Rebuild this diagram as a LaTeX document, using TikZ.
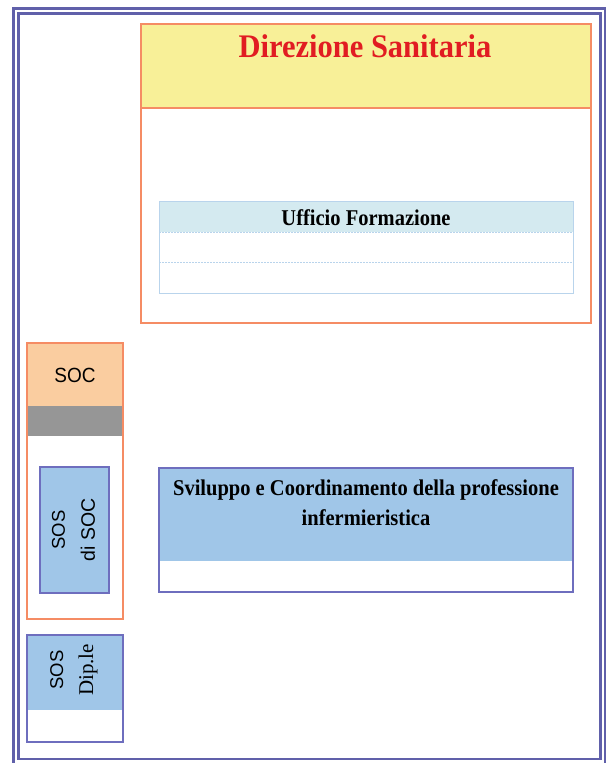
\documentclass[tikz,border=0pt]{standalone}
\usepackage{fontspec}
\setmainfont{Liberation Serif}
\setsansfont{Liberation Sans}
\definecolor{frameblue}{RGB}{96,96,170}
\definecolor{orangeline}{RGB}{245,140,100}
\definecolor{headyellow}{RGB}{248,240,152}
\definecolor{titlered}{RGB}{225,28,34}
\definecolor{paleblue}{RGB}{212,234,240}
\definecolor{paleline}{RGB}{185,212,236}
\definecolor{peach}{RGB}{250,205,160}
\definecolor{bandgray}{RGB}{150,150,150}
\definecolor{unitblue}{RGB}{160,198,232}
\definecolor{unitline}{RGB}{110,110,190}
\tikzset{
  orangebox/.style={draw=orangeline, line width=1.6pt},
  unitbox/.style={draw=unitline, line width=1.2pt},
  tablebox/.style={draw=paleline, line width=0.9pt},
  rowsep/.style={draw=paleline, line width=0.7pt, dashed, dash pattern=on 2pt off 1pt},
  boldlabel/.style={font=\bfseries\fontsize{20.5}{27}\selectfont, align=center, yscale=1.1, transform shape},
  sanslabel/.style={font=\sffamily\fontsize{18.5}{30}\selectfont, align=center},
}
\begin{document}
\begin{tikzpicture}[x=1pt,y=-1pt]
\useasboundingbox (0,0) rectangle (609,763);
\fill[white] (0,0) rectangle (609,763);

% outer double frame
\draw[frameblue, line width=2.6pt] (13.5,8.5) rectangle (605,770);
\draw[frameblue, line width=2.2pt] (18.5,13.5) rectangle (600.5,759);

% Direzione Sanitaria
\fill[headyellow] (141,24) rectangle (591,108);
\draw[orangeline, line width=1.2pt] (141,108) -- (591,108);
\draw[orangebox] (141,24) rectangle (591,323);
\node[font=\bfseries\fontsize{30.5}{30}\selectfont, text=titlered, yscale=1.08, transform shape] (dir) at (365,46) {Direzione Sanitaria};

% Ufficio Formazione table
\fill[paleblue] (159,201) rectangle (573,232);
\draw[rowsep] (159,232) -- (573,232);
\draw[rowsep] (159,262) -- (573,262);
\draw[tablebox] (159,201) rectangle (573,293);
\node[boldlabel] (uff) at (366,218) {Ufficio Formazione};

% SOC column
\fill[peach] (27,343) rectangle (123,406);
\fill[bandgray] (27,406) rectangle (123,436);
\draw[orangebox] (27,343) rectangle (123,619);
\node[font=\sffamily\fontsize{19}{19}\selectfont, yscale=1.08, transform shape] (soc) at (75,375) {SOC};

% SOS di SOC
\fill[unitblue] (40,467) rectangle (109,593);
\draw[unitbox] (40,467) rectangle (109,593);
\node[sanslabel, rotate=90] (sosdisoc) at (73.5,530) {SOS\\{\fontsize{19.5}{30}\selectfont di SOC}};

% SOS dipartimentale
\fill[unitblue] (27,635) rectangle (123,710);
\draw[unitbox] (27,635) rectangle (123,742);
\node[sanslabel, rotate=90] (sosdip) at (74,670) {SOS\\{\rmfamily\fontsize{21}{30}\selectfont Dip.le}};

% Sviluppo e Coordinamento
\fill[unitblue] (159,468) rectangle (573,561);
\draw[unitbox] (159,468) rectangle (573,592);
\node[boldlabel] (svil) at (366,503) {Sviluppo e Coordinamento della professione\\infermieristica};
\end{tikzpicture}
\end{document}
